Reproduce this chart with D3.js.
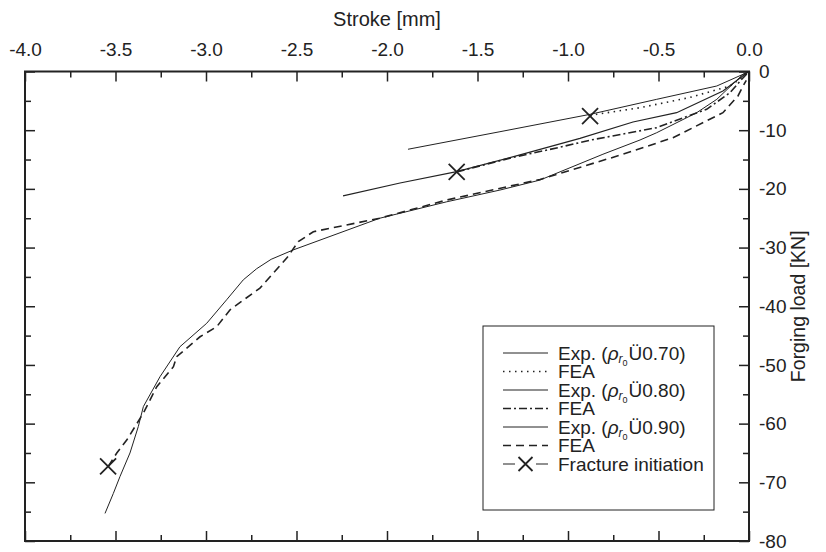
<!DOCTYPE html>
<html>
<head>
<meta charset="utf-8">
<script src="https://cdn.jsdelivr.net/npm/d3@7"></script>
<style>
  body { margin: 0; background: #fff; }
  svg text { font-family: "Liberation Sans", Arial, sans-serif; fill: #222; }
</style>
</head>
<body>
<svg id="drawing_region"></svg>
<script>
// stroke [mm], forging load [KN]
const exp70 = [[-1.884,-13.25],[-1.376,-10.26],[-0.878,-7.3],[-0.51,-4.74],[-0.178,-2.47],[-0.033,-0.48],[0,0]];
const fea70 = [[-0.878,-7.6],[-0.842,-7.29],[-0.602,-6.17],[-0.331,-4.46],[-0.105,-2.47],[-0.05,-1.28],[0,0]];
const exp80 = [[-2.243,-21.2],[-1.928,-19.0],[-1.615,-17.07],[-1.265,-14.2],[-0.934,-11.4],[-0.641,-8.6],[-0.40,-7.02],[-0.144,-3.32],[-0.022,-0.48],[0,0]];
const fea80 = [[-1.615,-17.1],[-1.3,-14.6],[-1.044,-12.9],[-0.878,-11.7],[-0.51,-9.57],[-0.234,-6.44],[-0.105,-3.61],[-0.04,-1.33],[0,0]];
const exp90 = [[-3.558,-75.3],[-3.512,-71.9],[-3.475,-69.0],[-3.42,-65.0],[-3.374,-60.5],[-3.346,-57.1],[-3.254,-52.0],
  [-3.144,-46.9],[-2.996,-42.9],[-2.886,-38.9],[-2.794,-35.5],[-2.72,-33.6],[-2.64,-32.0],[-2.518,-30.4],[-2.04,-25.0],[-1.67,-22.2],
  [-1.376,-20.2],[-1.155,-18.5],[-0.807,-14.1],[-0.602,-11.67],[-0.51,-10.43],[-0.289,-7.02],[-0.178,-4.74],[-0.033,-0.48],[0,0]];
const fea90 = [[-3.54,-67.3],[-3.493,-65.0],[-3.438,-62.8],[-3.346,-58.2],[-3.272,-53.7],[-3.18,-50.3],[-3.162,-48.6],
  [-3.033,-45.2],[-2.941,-43.5],[-2.867,-40.6],[-2.702,-36.9],[-2.554,-31.8],[-2.49,-29.0],[-2.407,-27.3],[-2.04,-25.0],
  [-1.67,-21.9],[-1.155,-18.4],[-0.696,-14.1],[-0.42,-11.28],[-0.144,-7.02],[-0.061,-4.17],[-0.033,-2.47],[-0.015,-1.5]];
const fracture = [[-0.878,-7.6],[-1.615,-17.1],[-3.541,-67.3]];

const xTicks = [-4.0,-3.5,-3.0,-2.5,-2.0,-1.5,-1.0,-0.5,0.0];
const xMinor = [-3.75,-3.25,-2.75,-2.25,-1.75,-1.25,-0.75,-0.25];
const yTicks = [0,-10,-20,-30,-40,-50,-60,-70,-80];
const yMinor = [-5,-15,-25,-35,-45,-55,-65,-75];

const legendLabels = ["0.70","FEA","0.80","FEA","0.90","FEA","Fracture initiation"];

var width = 826;
var height = 552;
var margin = {top: 71.5, right: 77, bottom: 11, left: 25};

var svg = d3.select('#drawing_region')
    .attr('width', width)
    .attr('height', height);

const inner_width = width - margin.left - margin.right;
const inner_height = height - margin.top - margin.bottom;

const chart = svg.append('g')
    .attr('transform', `translate(${margin.left}, ${margin.top})`);

const xscale = d3.scaleLinear().domain([-4, 0]).range([0, inner_width]);
const yscale = d3.scaleLinear().domain([0, -80]).range([0, inner_height]);

function styleAxis(g) {
    g.select('.domain').remove();
    g.selectAll('.tick line').attr('stroke', '#222').attr('stroke-width', 1.5);
    g.selectAll('.tick text').attr('font-size', 19).attr('fill', '#222');
}

// top axis with labels
chart.append('g')
    .call(d3.axisTop(xscale).tickValues(xTicks).tickSizeInner(-10).tickSizeOuter(0).tickPadding(16)
        .tickFormat(d => d.toFixed(1)))
    .call(styleAxis);
chart.append('g')
    .call(d3.axisTop(xscale).tickValues(xMinor).tickSizeInner(-6).tickSizeOuter(0).tickFormat(''))
    .call(styleAxis);
// bottom axis, ticks only
chart.append('g')
    .attr('transform', `translate(0, ${inner_height})`)
    .call(d3.axisBottom(xscale).tickValues(xTicks).tickSizeInner(-10).tickSizeOuter(0).tickFormat(''))
    .call(styleAxis);
chart.append('g')
    .attr('transform', `translate(0, ${inner_height})`)
    .call(d3.axisBottom(xscale).tickValues(xMinor).tickSizeInner(-6).tickSizeOuter(0).tickFormat(''))
    .call(styleAxis);
// right axis with labels
chart.append('g')
    .attr('transform', `translate(${inner_width}, 0)`)
    .call(d3.axisRight(yscale).tickValues(yTicks).tickSizeInner(-10).tickSizeOuter(0).tickPadding(10)
        .tickFormat(d => String(d)))
    .call(styleAxis);
chart.append('g')
    .attr('transform', `translate(${inner_width}, 0)`)
    .call(d3.axisRight(yscale).tickValues(yMinor).tickSizeInner(-6).tickSizeOuter(0).tickFormat(''))
    .call(styleAxis);
// left axis, ticks only
chart.append('g')
    .call(d3.axisLeft(yscale).tickValues(yTicks).tickSizeInner(-10).tickSizeOuter(0).tickFormat(''))
    .call(styleAxis);
chart.append('g')
    .call(d3.axisLeft(yscale).tickValues(yMinor).tickSizeInner(-6).tickSizeOuter(0).tickFormat(''))
    .call(styleAxis);

// frame
chart.append('rect')
    .attr('width', inner_width)
    .attr('height', inner_height)
    .attr('fill', 'none')
    .attr('stroke', '#222')
    .attr('stroke-width', 2);

// axis titles
svg.append('text')
    .attr('x', margin.left + inner_width / 2)
    .attr('y', 26)
    .attr('text-anchor', 'middle')
    .attr('font-size', 20)
    .text('Stroke [mm]');
svg.append('text')
    .attr('transform', `translate(805, ${margin.top + inner_height / 2}) rotate(-90)`)
    .attr('text-anchor', 'middle')
    .attr('font-size', 19.5)
    .text('Forging load [KN]');

const line = d3.line()
    .x(d => xscale(d[0]))
    .y(d => yscale(d[1]));

const series = [
    {data: exp70, dash: null, w: 1},
    {data: fea70, dash: '1.5,4.5', w: 1.6},
    {data: exp80, dash: null, w: 1.2},
    {data: fea80, dash: '8,3,2,3', w: 1.6},
    {data: exp90, dash: null, w: 1},
    {data: fea90, dash: '8,5', w: 1.6}
];

series.forEach(s => {
    chart.append('path')
        .attr('d', line(s.data))
        .attr('fill', 'none')
        .attr('stroke', '#222')
        .attr('stroke-width', s.w)
        .attr('stroke-dasharray', s.dash);
});

// fracture markers
const cross = 'M-8,-8L8,8M-8,8L8,-8';
chart.selectAll('.frac')
    .data(fracture)
    .enter().append('path')
    .attr('class', 'frac')
    .attr('transform', d => `translate(${xscale(d[0])}, ${yscale(d[1])})`)
    .attr('d', cross)
    .attr('stroke', '#222')
    .attr('stroke-width', 1.8)
    .attr('fill', 'none');

// legend
const legend = svg.append('g');
legend.append('rect')
    .attr('x', 483).attr('y', 326)
    .attr('width', 231).attr('height', 184)
    .attr('fill', '#fff')
    .attr('stroke', '#222')
    .attr('stroke-width', 1);

const rowY = i => 353 + i * 18.5;

legendLabels.forEach((lab, i) => {
    const y = rowY(i);
    if (i < 6) {
        legend.append('line')
            .attr('x1', 503).attr('x2', 548)
            .attr('y1', y).attr('y2', y)
            .attr('stroke', '#222')
            .attr('stroke-width', series[i].w)
            .attr('stroke-dasharray', series[i].dash);
    } else {
        legend.append('path')
            .attr('d', `M503,${y}L515,${y}M536,${y}L548,${y}`)
            .attr('stroke', '#222').attr('stroke-width', 1.2);
        legend.append('path')
            .attr('transform', `translate(525.5, ${y})`)
            .attr('d', 'M-7,-7L7,7M-7,7L7,-7')
            .attr('stroke', '#222').attr('stroke-width', 1.8).attr('fill', 'none');
    }
    const t = legend.append('text')
        .attr('x', 558)
        .attr('y', y + 6.5)
        .attr('font-size', 19);
    if (i % 2 === 0 && i < 6) {
        t.append('tspan').text('Exp. (');
        t.append('tspan').attr('font-style', 'italic').text('\u03C1');
        t.append('tspan').attr('font-size', 12).attr('dy', 3).attr('font-style', 'italic').text('r');
        t.append('tspan').attr('font-size', 9).attr('dy', 3).text('0');
        t.append('tspan').attr('dy', -6).attr('dx', 1).text('\u00DC' + lab + ')');
    } else {
        t.text(lab);
    }
});
</script>
</body>
</html>
